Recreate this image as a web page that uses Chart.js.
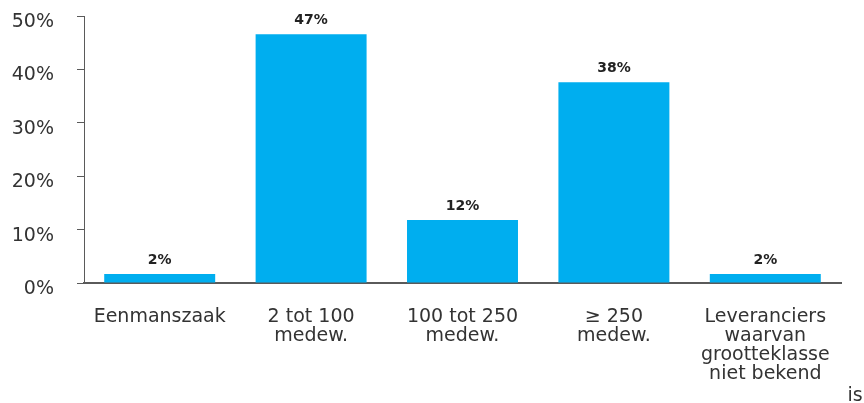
<!DOCTYPE html>
<html>
<head>
<meta charset="utf-8">
<script src="https://cdn.jsdelivr.net/npm/chart.js@4"></script>
<style>
  html,body{margin:0;padding:0;background:#fff;}
  #wrap{position:relative;width:864px;height:403px;}
</style>
</head>
<body>
<div id="wrap"><canvas id="c" width="864" height="403"></canvas></div>
<script>
const categories = [
  "Eenmanszaak",
  ["2 tot 100", "medew."],
  ["100 tot 250", "medew."],
  ["\u2265 250", "medew."],
  ["Leveranciers", "waarvan", "grootteklasse", "niet bekend"]
];
const shares = [1.7, 46.6, 11.8, 37.6, 1.7];
const shareLabels = ["2%", "47%", "12%", "38%", "2%"];
const yTicks = [0, 10, 20, 30, 40, 50];
const trailingText = "is";

const FONT = "'DejaVu Sans', sans-serif";
const TEXT = "#333333";
const AXIS = "#5a5a5a";

const labelPlugin = {
  id: 'barLabels',
  afterDatasetsDraw(chart) {
    const ctx = chart.ctx;
    const meta = chart.getDatasetMeta(0);
    ctx.save();
    ctx.font = "bold 14px " + FONT;
    ctx.fillStyle = "#222222";
    ctx.textAlign = "center";
    ctx.textBaseline = "bottom";
    meta.data.forEach((bar, i) => {
      ctx.fillText(shareLabels[i], bar.x, bar.y - 7);
    });
    // stray wrapped word of the last category label
    ctx.font = "19px " + FONT;
    ctx.fillStyle = TEXT;
    ctx.textAlign = "center";
    ctx.textBaseline = "middle";
    const xs = chart.scales.x;
    ctx.fillText(trailingText, xs.right + 14, 396);
    ctx.restore();
  }
};

new Chart(document.getElementById('c'), {
  type: 'bar',
  data: {
    labels: categories,
    datasets: [{
      data: shares,
      backgroundColor: "#00AEEF",
      borderWidth: 0,
      categoryPercentage: 0.733,
      barPercentage: 1.0
    }]
  },
  options: {
    responsive: false,
    animation: false,
    events: [],
    layout: { padding: { top: 16, right: 23, left: 0, bottom: 0 } },
    plugins: { legend: { display: false }, tooltip: { enabled: false } },
    scales: {
      x: {
        grid: { display: false, drawTicks: false },
        border: { color: AXIS, width: 2 },
        ticks: {
          color: TEXT,
          font: { family: FONT, size: 19, lineHeight: 1.0 },
          padding: 25,
          maxRotation: 0,
          autoSkip: false
        },
        afterFit(scale) { scale.height = 120; scale.paddingLeft = 0; scale.paddingRight = 0; }
      },
      y: {
        min: 0,
        max: 50,
        afterBuildTicks(scale) { scale.ticks = yTicks.map(v => ({ value: v })); },
        grid: { drawOnChartArea: false, drawTicks: true, tickLength: 7, color: AXIS, lineWidth: 1 },
        border: { color: AXIS, width: 1 },
        ticks: {
          color: TEXT,
          font: { family: FONT, size: 19 },
          padding: 23,
          labelOffset: 6,
          callback: v => v + "%"
        },
        afterFit(scale) { scale.width = 84; scale.paddingTop = 0; scale.paddingBottom = 0; }
      }
    }
  },
  plugins: [labelPlugin]
});
</script>
</body>
</html>
